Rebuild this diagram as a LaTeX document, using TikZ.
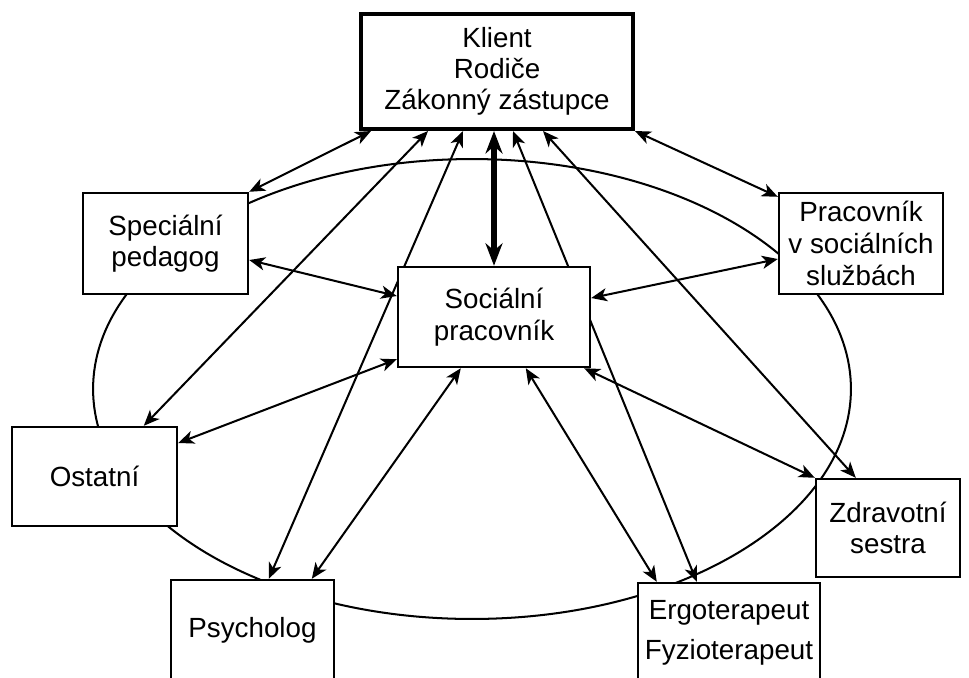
\documentclass[tikz,border=0pt]{standalone}
\usepackage{fontspec}
\setmainfont{Liberation Sans}
\usetikzlibrary{arrows.meta,calc,backgrounds}

\begin{document}
\begin{tikzpicture}[
  x=0.02cm, y=-0.02cm,
  box/.style={draw,line width=1.4pt,fill=white,align=center,inner sep=2pt,font=\fontsize{15.8pt}{18pt}\selectfont},
  link/.style={{Stealth[length=9pt,width=7.5pt,inset=2.5pt]}-{Stealth[length=9pt,width=7.5pt,inset=2.5pt]},line width=1.15pt},
  mainlink/.style={{Stealth[length=0.45cm,width=0.34cm]}-{Stealth[length=0.45cm,width=0.34cm]},line width=3.2pt}
]
  \useasboundingbox (0,0) rectangle (969,677);

  \node[box,line width=2.3pt,minimum width=5.44cm,minimum height=2.3cm,font=\fontsize{15.8pt}{17.6pt}\selectfont] (klient) at (497,71.5) {Klient\\Rodiče\\Zákonný zástupce};
  \node[box,minimum width=3.3cm,minimum height=2.02cm] (pedagog) at (165.5,243.5) {Speciální\\pedagog};
  \node[box,minimum width=3.28cm,minimum height=2.02cm] (pracsluzby) at (861,243.5) {Pracovník\\v sociálních\\službách};
  \node[box,minimum width=3.84cm,minimum height=2cm] (socprac) at (494,317) {Sociální\\pracovník};
  \node[box,minimum width=3.3cm,minimum height=1.98cm] (ostatni) at (94.5,476.5) {Ostatní};
  \node[box,minimum width=2.88cm,minimum height=1.96cm] (sestra) at (888,528) {Zdravotní\\sestra};
  \node[box,minimum width=3.26cm,minimum height=2cm] (psycholog) at (252.5,630) {Psycholog};
  \node[box,minimum width=3.64cm,minimum height=2cm] (terapeut) at (729,633) {Ergoterapeut\\[5pt]Fyzioterapeut};

  \begin{scope}[on background layer]
    \draw[line width=1.15pt] (472,389) ellipse [x radius=7.58cm, y radius=4.6cm];

    % klient
    \draw[link] ($(klient.south west)+(12,0)$) -- (pedagog.north east);
    \draw[link] ($(klient.south west)+(69,0)$) -- ($(ostatni.north west)+(133,0)$);
    \draw[link] ($(klient.south west)+(104,0)$) -- ($(psycholog.north west)+(99,0)$);
    \draw[mainlink] (klient.south -| socprac.north) -- (socprac.north);
    \draw[link] ($(klient.south west)+(154,0)$) -- ($(terapeut.north west)+(60,0)$);
    \draw[link] ($(klient.south west)+(184,0)$) -- ($(sestra.north west)+(41,0)$);
    \draw[link] (klient.south east) -- ($(pracsluzby.north west)+(0,5)$);

    % socialni pracovnik
    \draw[link] ($(socprac.west)+(0,-21)$) -- ($(pedagog.east)+(0,16.5)$);
    \draw[link] ($(socprac.east)+(0,-19)$) -- ($(pracsluzby.west)+(0,15.5)$);
    \draw[link] ($(socprac.south west)+(0,-9)$) -- ($(ostatni.east)+(0,-33.5)$);
    \draw[link] ($(socprac.south west)+(64,0)$) -- ($(psycholog.north west)+(142,0)$);
    \draw[link] ($(socprac.south west)+(129,0)$) -- ($(terapeut.north west)+(20,0)$);
    \draw[link] ($(socprac.south east)+(-7,0)$) -- (sestra.north west);
  \end{scope}
\end{tikzpicture}
\end{document}
